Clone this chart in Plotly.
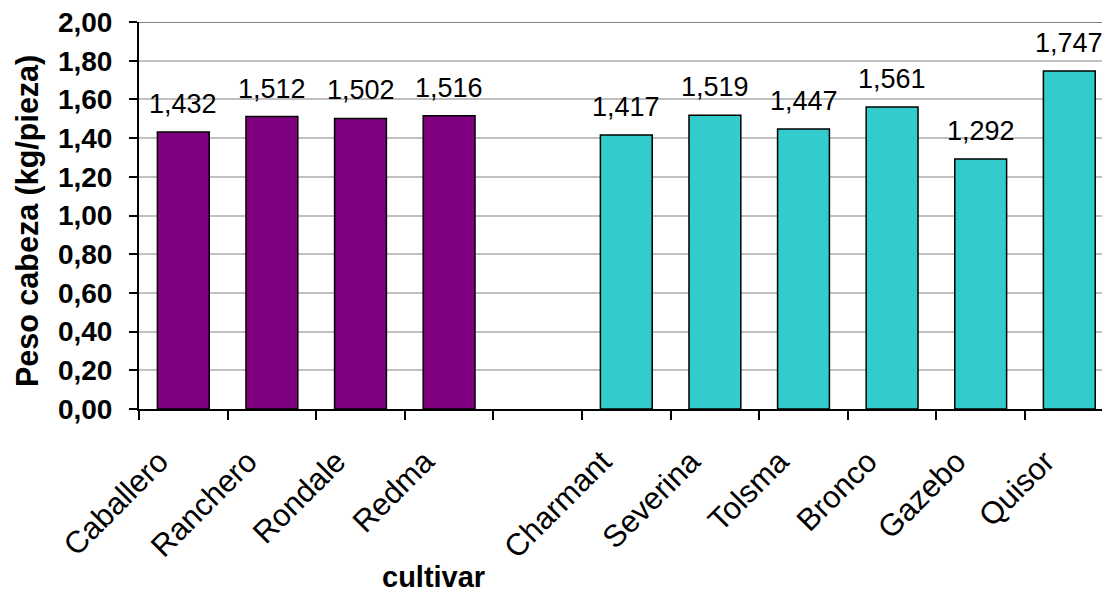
import plotly.graph_objects as go

# Data
group1_cultivars = ["Caballero", "Ranchero", "Rondale", "Redma"]
group1_values = [1.432, 1.512, 1.502, 1.516]
group2_cultivars = ["Charmant", "Severina", "Tolsma", "Bronco", "Gazebo", "Quisor"]
group2_values = [1.417, 1.519, 1.447, 1.561, 1.292, 1.747]
gap_category = [" "]
y_tick_values = [0.0, 0.2, 0.4, 0.6, 0.8, 1.0, 1.2, 1.4, 1.6, 1.8, 2.0]

categories = group1_cultivars + gap_category + group2_cultivars

FONT = "Arial, Liberation Sans, sans-serif"

# page body has an 8px margin, so the figure is a little smaller than the window
W, H = 1102, 584
ML, MR, MT, MB = 131, 0, 14, 183
pw = W - ML - MR
ph = H - MT - MB
cat_w = 88.6

fig = go.Figure()
fig.add_trace(go.Bar(
    x=group1_cultivars, y=group1_values,
    marker=dict(color="#800080", line=dict(color="black", width=1.5)),
    width=0.585, showlegend=False, hoverinfo="x+y",
))
fig.add_trace(go.Bar(
    x=group2_cultivars, y=group2_values,
    marker=dict(color="#33CCCC", line=dict(color="black", width=1.5)),
    width=0.585, showlegend=False, hoverinfo="x+y",
))

annotations = []
for xs, ys in ((group1_cultivars, group1_values), (group2_cultivars, group2_values)):
    for c, v in zip(xs, ys):
        annotations.append(dict(
            x=c, y=v, xref="x", yref="y",
            text=f"{v:.3f}".replace(".", ","),
            showarrow=False, yanchor="bottom", yshift=11,
            font=dict(family=FONT, size=27, color="black"),
        ))

annotations.append(dict(
    x=(425 - ML) / pw, y=-(569 - (MT + ph)) / ph, xref="paper", yref="paper",
    text="<b>cultivar</b>",
    showarrow=False, yanchor="middle", xanchor="center",
    font=dict(family=FONT, size=29, color="black"),
))
annotations.append(dict(
    x=(19 - ML) / pw, y=((MT + ph) - 213) / ph, xref="paper", yref="paper",
    text="<b>Peso cabeza (kg/pieza)</b>", textangle=-90,
    showarrow=False, xanchor="center", yanchor="middle",
    font=dict(family=FONT, size=30.5, color="black"),
))

fig.update_layout(
    width=W, height=H,
    margin=dict(l=ML, r=MR, t=MT, b=MB, pad=0),
    paper_bgcolor="white", plot_bgcolor="white",
    barmode="overlay",
    separators=",.",
    font=dict(family=FONT, color="black"),
    annotations=annotations,
    xaxis=dict(
        type="category", categoryorder="array", categoryarray=categories,
        range=[-0.5, -0.5 + pw / cat_w],
        showline=True, linecolor="black", linewidth=2,
        ticks="outside", tickson="boundaries", ticklen=9, tickwidth=2, tickcolor="black",
        tickangle=-45, tickfont=dict(family=FONT, size=31, color="black"),
        ticklabelstandoff=20, ticklabelshift=-24,
        showgrid=False, zeroline=False, fixedrange=True,
    ),
    yaxis=dict(
        range=[0, 2.0005], tickvals=y_tick_values, tickformat=".2f",
        showline=True, linecolor="black", linewidth=2,
        ticks="outside", ticklen=8, tickwidth=2, tickcolor="black",
        tickfont=dict(family=FONT, size=28, color="black", weight="bold"),
        ticklabelstandoff=11, ticklabeloverflow="allow",
        showgrid=True, gridcolor="#C0C0C0", gridwidth=2,
        zeroline=False, fixedrange=True,
    ),
    shapes=[dict(type="line", xref="paper", yref="y", x0=0, x1=1, y0=2.0, y1=2.0,
                 line=dict(color="#808080", width=2), layer="above")],
)

fig.write_html("out.html")
